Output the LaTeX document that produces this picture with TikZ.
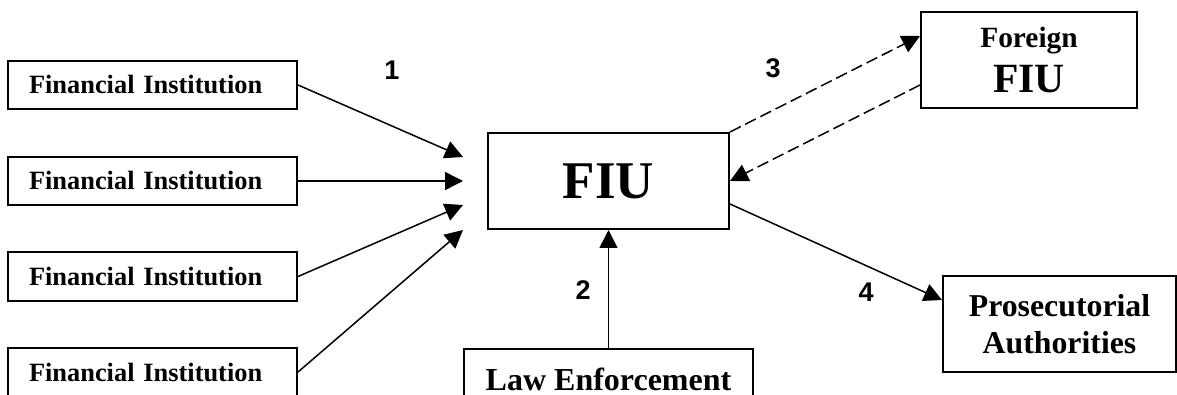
\documentclass[tikz,border=0pt]{standalone}
\usepackage{fontspec}
\setmainfont{Liberation Serif}
\newfontfamily\numfont{Liberation Sans}
\usetikzlibrary{arrows.meta}

\begin{document}
\begin{tikzpicture}[x=0.5pt, y=-0.5pt,
	caja/.style={draw, line width=1pt, inner sep=0pt},
	inst/.style={caja, minimum height=24pt, text width=123.5pt, inner xsep=10.5pt, align=left,
		font=\fontsize{13.2}{15}\selectfont\bfseries},
	grande/.style={caja, minimum height=48pt, align=center},
	flecha/.style={-{Triangle[length=9pt, width=9pt]}, line width=0.75pt},
	rayas/.style={flecha, dash pattern=on 6pt off 2.5pt},
	num/.style={font=\numfont\fontsize{13.5}{15}\selectfont\bfseries}
	]
	\useasboundingbox (0,0) rectangle (1177,395);
	
	% Instituciones financieras
	\node[inst] (fi1) at (152.5,85) {Financial Institution};
	\node[inst] (fi2) at (152.5,181) {Financial Institution};
	\node[inst] (fi3) at (152.5,276.5) {Financial Institution};
	\node[inst] (fi4) at (152.5,372) {Financial Institution};
	
	% Unidades centrales y destinos
	\node[grande, minimum width=120.5pt, font=\fontsize{26.5}{30}\selectfont\bfseries] (fiu) at (608.5,181) {FIU};
	\node[grande, minimum width=108pt, font=\fontsize{14.7}{22.5}\selectfont\bfseries] (ext) at (1029,60)
		{Foreign\\{\fontsize{20.8}{22.5}\selectfont FIU}};
	\node[grande, minimum width=116.5pt, font=\fontsize{15.9}{18.5}\selectfont\bfseries] (fisc) at (1059.5,324)
		{Prosecutorial\\Authorities};
	\node[caja, anchor=north, minimum width=144.5pt, inner ysep=9.5pt,
		font=\fontsize{16}{18}\selectfont\bfseries] (pol) at (608.5,348) {Law Enforcement};
	
	% Puntas libres de las flechas de entrada
	\coordinate (p1) at (463,157);
	\coordinate (p2) at (463,181);
	\coordinate (p3) at (463,205);
	\coordinate (p4) at (463,230);
	
	% Flechas
	\draw[flecha] (fi1.east) -- (p1);
	\draw[flecha] (fi2.east) -- (p2);
	\draw[flecha] (fi3.east) -- (p3);
	\draw[flecha] (fi4.east) -- (p4);
	\draw[flecha] (pol.north) -- (fiu.south);
	\draw[rayas] (fiu.north east) -- ([yshift=-12.5pt]ext.north west);
	\draw[rayas] ([yshift=-37pt]ext.north west) -- (fiu.east);
	\draw[flecha] ([yshift=-11.5pt]fiu.east) -- ([yshift=12pt]fisc.west);
	
	% Numeros
	\node[num] (n1) at (392,70) {1};
	\node[num] (n2) at (583,290) {2};
	\node[num] (n3) at (773,68) {3};
	\node[num] (n4) at (866,292) {4};
\end{tikzpicture}
\end{document}
